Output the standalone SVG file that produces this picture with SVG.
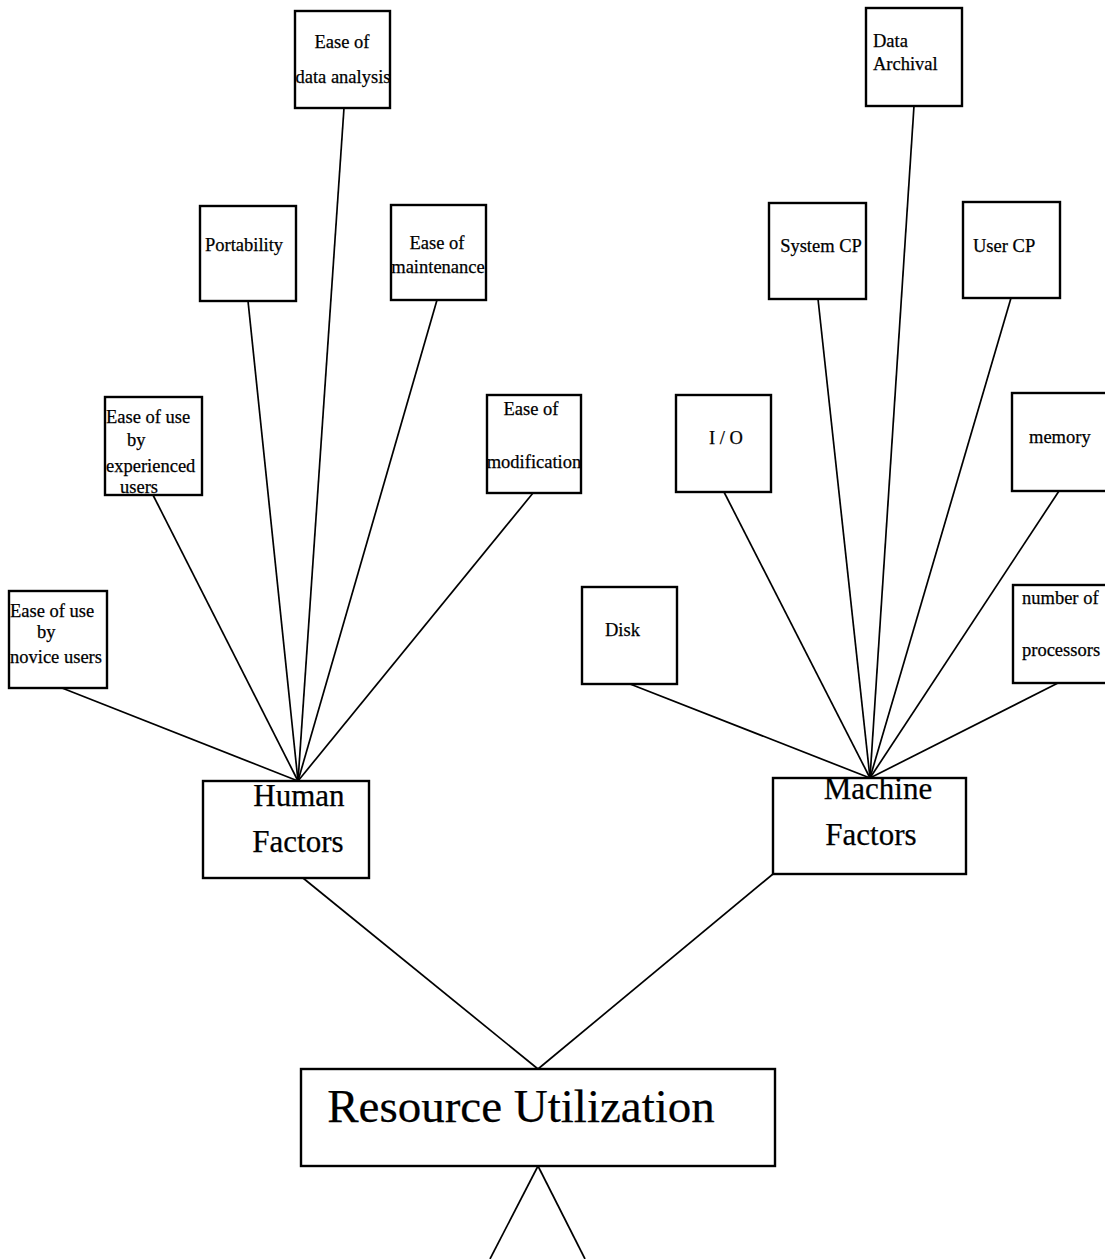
<svg xmlns="http://www.w3.org/2000/svg" width="1105" height="1259" viewBox="0 0 1105 1259">
<style>
rect{fill:#fff;stroke:#000;stroke-width:2.4}
line{stroke:#000;stroke-width:1.7}
text{font-family:"Liberation Serif","Times New Roman",serif;fill:#000;stroke:#000;stroke-width:0.25}
.s{font-size:18.5px}
.m{font-size:31px}
.l{font-size:47px}
.c{text-anchor:middle}
</style>
<rect x="0" y="0" width="1105" height="1259" style="fill:#fff;stroke:none"/>
<g id="connectors">
<line x1="62" y1="688" x2="298" y2="781"/>
<line x1="153" y1="495" x2="298" y2="781"/>
<line x1="248" y1="301" x2="298" y2="781"/>
<line x1="344" y1="108" x2="298" y2="781"/>
<line x1="437" y1="300" x2="298" y2="781"/>
<line x1="533" y1="493" x2="298" y2="781"/>
<line x1="630" y1="684" x2="870" y2="778"/>
<line x1="724" y1="492" x2="870" y2="778"/>
<line x1="818" y1="299" x2="870" y2="778"/>
<line x1="914" y1="106" x2="870" y2="778"/>
<line x1="1011" y1="298" x2="870" y2="778"/>
<line x1="1059" y1="491" x2="870" y2="778"/>
<line x1="1058" y1="683" x2="870" y2="778"/>
<line x1="303" y1="878" x2="538" y2="1069"/>
<line x1="773" y1="874" x2="538" y2="1069"/>
<line x1="538" y1="1166" x2="490" y2="1259"/>
<line x1="538" y1="1166" x2="585" y2="1259"/>
</g>
<g id="data-analysis"><rect x="295" y="11" width="95" height="97"/><text class="s c" x="342" y="48">Ease of</text><text class="s c" x="343" y="83">data analysis</text></g>
<g id="portability"><rect x="200" y="206" width="96" height="95"/><text class="s c" x="244" y="251">Portability</text></g>
<g id="maintenance"><rect x="391" y="205" width="95" height="95"/><text class="s c" x="437" y="249">Ease of</text><text class="s c" x="438" y="273">maintenance</text></g>
<g id="experienced"><rect x="105" y="397" width="97" height="98"/><text class="s" x="106" y="423">Ease of use</text><text class="s" x="127" y="446">by</text><text class="s" x="106" y="472">experienced</text><text class="s" x="120" y="493">users</text></g>
<g id="novice"><rect x="9" y="591" width="98" height="97"/><text class="s" x="10" y="617">Ease of use</text><text class="s" x="37" y="638">by</text><text class="s" x="10" y="663">novice users</text></g>
<g id="modification"><rect x="487" y="395" width="94" height="98"/><text class="s c" x="531" y="415">Ease of</text><text class="s c" x="534" y="468">modification</text></g>
<g id="data-archival"><rect x="866" y="8" width="96" height="98"/><text class="s" x="873" y="47">Data</text><text class="s" x="873" y="70">Archival</text></g>
<g id="system-cp"><rect x="769" y="203" width="97" height="96"/><text class="s c" x="821" y="252">System CP</text></g>
<g id="user-cp"><rect x="963" y="202" width="97" height="96"/><text class="s" x="973" y="252">User CP</text></g>
<g id="io"><rect x="676" y="395" width="95" height="97"/><text class="s c" x="726" y="444">I / O</text></g>
<g id="memory"><rect x="1012" y="393" width="96" height="98"/><text class="s" x="1029" y="443">memory</text></g>
<g id="disk"><rect x="582" y="587" width="95" height="97"/><text class="s" x="605" y="636">Disk</text></g>
<g id="processors"><rect x="1013" y="585" width="96" height="98"/><text class="s" x="1022" y="604">number of</text><text class="s" x="1022" y="656">processors</text></g>
<g id="human"><rect x="203" y="781" width="166" height="97"/><text class="m c" x="299" y="806">Human</text><text class="m c" x="298" y="852">Factors</text></g>
<g id="machine"><rect x="773" y="778" width="193" height="96"/><text class="m c" x="878" y="799">Machine</text><text class="m c" x="871" y="845">Factors</text></g>
<g id="resource"><rect x="301" y="1069" width="474" height="97"/><text class="l c" x="521" y="1122">Resource Utilization</text></g>
</svg>
